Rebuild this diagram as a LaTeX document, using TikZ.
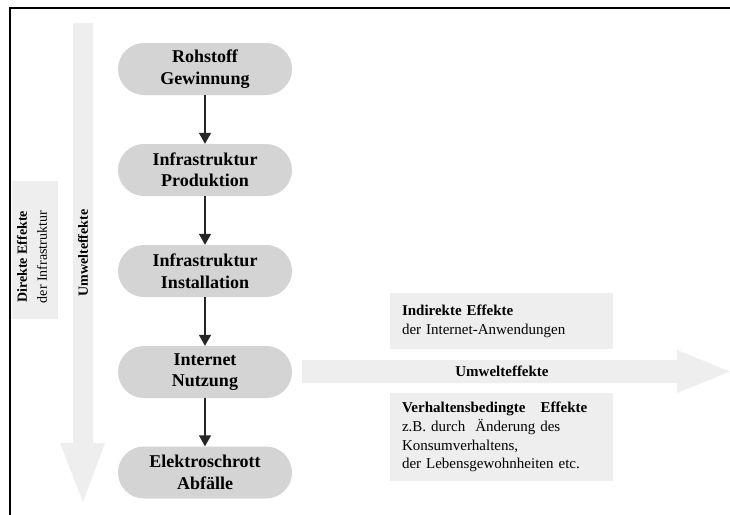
\documentclass[tikz,border=0pt]{standalone}
\usepackage{fontspec}
\setmainfont{Liberation Serif}
\usetikzlibrary{arrows.meta}
\definecolor{nodegray}{RGB}{212,212,212}
\definecolor{palegray}{RGB}{238,238,238}
\begin{document}
\begin{tikzpicture}[x=1pt,y=-1pt,
  stage/.style={rectangle, fill=nodegray, rounded corners=26pt, minimum width=174pt,
    minimum height=52pt, inner sep=0pt, align=center,
    font=\fontsize{18}{21.5}\selectfont\bfseries},
  flow/.style={-{Triangle[length=11pt,width=12pt]}, line width=1.5pt, black!85},
  infobox/.style={rectangle, fill=palegray, minimum width=223pt, text width=199pt,
    inner xsep=12pt, inner ysep=0pt, align=left, font=\fontsize{15}{18.7}\selectfont},
  bigarrow/.style={fill=palegray},
  sidelabel/.style={rotate=90, align=center, inner sep=0pt}
]
\useasboundingbox (0,0) rectangle (730,514);
\fill[white] (0,0) rectangle (730,514);

% frame
\draw[line width=2pt, black] (10,516) -- (10,8) -- (732,8);

% big arrows
\fill[bigarrow] (73,23) -- (93,23) -- (93,443) -- (105,443) -- (83,502) -- (60,443) -- (73,443) -- cycle;
\fill[bigarrow] (302,360) -- (677,360) -- (677,350) -- (730,371.5) -- (677,393) -- (677,383) -- (302,383) -- cycle;

% left box
\node[fill=palegray, minimum width=46pt, minimum height=138pt, inner sep=0pt] (direkt) at (35,250) {};
\node[sidelabel, font=\fontsize{14}{20}\selectfont] (direkttext) at (32,257)
  {\textbf{Direkte Effekte}\\der Infrastruktur};

% vertical arrow label
\node[sidelabel, font=\fontsize{14}{16}\selectfont\bfseries] (umwv) at (83,253) {Umwelteffekte};

% stages
\node[stage] (n1) at (205,69) {Rohstoff\\Gewinnung};
\node[stage] (n2) at (205,170) {Infrastruktur\\Produktion};
\node[stage] (n3) at (205,271) {Infrastruktur\\Installation};
\node[stage] (n4) at (205,372) {Internet\\Nutzung};
\node[stage] (n5) at (205,472.5) {Elektroschrott\\Abfälle};

\draw[flow] (n1) -- (n2);
\draw[flow] (n2) -- (n3);
\draw[flow] (n3) -- (n4);
\draw[flow] (n4) -- (n5);

% horizontal arrow label
\node[font=\fontsize{15}{18}\selectfont\bfseries] (umwh) at (502,371.5) {Umwelteffekte};

% right boxes
\node[infobox, minimum height=56pt] (indirekt) at (501.5,321)
  {\textbf{Indirekte Effekte}\\der Internet-Anwendungen};
\node[infobox, minimum height=88pt] (verhalten) at (501.5,437)
  {\textbf{Verhaltensbedingte\ \ \ Effekte}\\z.B. durch\ \ Änderung des\\Konsumverhaltens,\\der Lebensgewohnheiten etc.};
\end{tikzpicture}
\end{document}
